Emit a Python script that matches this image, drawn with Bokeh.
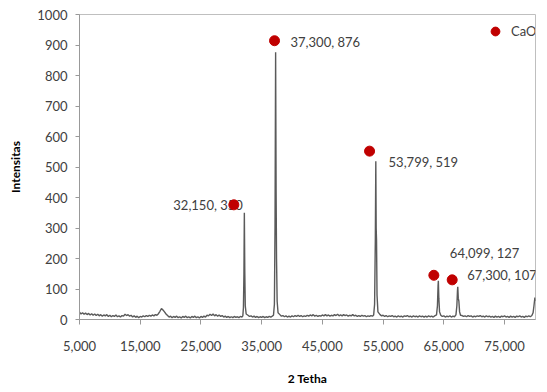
from bokeh.plotting import figure
from bokeh.layouts import column
from bokeh.models import FixedTicker, Range1d, Legend, LegendItem, Div
from bokeh.core.properties import value
from bokeh.embed import file_html
from bokeh.resources import INLINE

# ---- XRD pattern (2-theta in degrees, intensity in counts) ----
base_a_x = [5.00, 5.25, 5.50, 5.75, 6.00, 6.25, 6.50, 6.75, 7.00, 7.25, 7.50, 7.75, 8.00, 8.25, 8.50, 8.75,
            9.00, 9.25, 9.50, 9.75, 10.00, 10.25, 10.50, 10.75, 11.00, 11.25, 11.50, 11.75, 12.00, 12.25,
            12.50, 12.75, 13.00, 13.25, 13.50, 13.75, 14.00, 14.25, 14.50, 14.75, 15.00, 15.25, 15.50,
            15.75, 16.00, 16.25, 16.50, 16.75, 17.00, 17.25, 17.50, 17.75, 18.00, 18.25, 18.50, 18.75,
            19.00, 19.25, 19.50, 19.75, 20.00, 20.25, 20.50, 20.75, 21.00, 21.25, 21.50, 21.75, 22.00,
            22.25, 22.50, 22.75, 23.00, 23.25, 23.50, 23.75, 24.00, 24.25, 24.50, 24.75, 25.00, 25.25,
            25.50, 25.75, 26.00, 26.25, 26.50, 26.75, 27.00, 27.25, 27.50, 27.75, 28.00, 28.25, 28.50,
            28.75, 29.00, 29.25, 29.50, 29.75, 30.00, 30.25, 30.50, 30.75, 31.00, 31.25, 31.50, 31.75]
base_a_y = [24, 18, 22, 17, 21, 16, 20, 15, 19, 14, 18, 13, 17, 12, 16, 11,
            15, 12, 16, 10, 14, 9, 13, 10, 15, 9, 12, 8, 13, 11,
            17, 13, 16, 11, 14, 8, 12, 7, 11, 6, 10, 8, 12,
            9, 13, 10, 14, 11, 15, 12, 16, 14, 19, 27, 36, 31,
            25, 18, 13, 8, 11, 6, 10, 7, 11, 6, 9, 5, 10,
            7, 11, 6, 9, 5, 10, 7, 11, 6, 9, 5, 10, 7,
            11, 8, 14, 12, 17, 13, 18, 12, 16, 11, 15, 10, 13,
            8, 11, 7, 10, 6, 9, 6, 10, 7, 9, 6, 10, 8]
peak1_x = [31.90, 32.00, 32.08, 32.15, 32.22, 32.30, 32.45]
peak1_y = [12, 40, 150, 350, 160, 45, 18]
base_b_x = [32.75, 33.00, 33.25, 33.50, 33.75, 34.00, 34.25, 34.50, 34.75, 35.00, 35.25, 35.50, 35.75,
            36.00, 36.25, 36.50, 36.75]
base_b_y = [14, 10, 12, 8, 11, 7, 10, 6, 9, 7, 10, 6, 9, 7, 10, 8, 11]
peak2_x = [36.95, 37.10, 37.20, 37.30, 37.38, 37.45, 37.55, 37.70]
peak2_y = [14, 50, 300, 876, 420, 200, 60, 22]
base_c_x = [38.00, 38.25, 38.50, 38.75, 39.00, 39.25, 39.50, 39.75, 40.00, 40.25, 40.50, 40.75, 41.00,
            41.25, 41.50, 41.75, 42.00, 42.25, 42.50, 42.75, 43.00, 43.25, 43.50, 43.75, 44.00, 44.25,
            44.50, 44.75, 45.00, 45.25, 45.50, 45.75, 46.00, 46.25, 46.50, 46.75, 47.00, 47.25, 47.50,
            47.75, 48.00, 48.25, 48.50, 48.75, 49.00, 49.25, 49.50, 49.75, 50.00, 50.25, 50.50, 50.75,
            51.00, 51.25, 51.50, 51.75, 52.00, 52.25, 52.50, 52.75, 53.00, 53.25]
base_c_y = [16, 11, 13, 9, 12, 8, 11, 8, 12, 9, 13, 10, 14,
            10, 13, 9, 12, 10, 14, 11, 15, 12, 16, 11, 14, 10,
            13, 11, 15, 12, 16, 12, 15, 11, 14, 12, 16, 13, 17,
            12, 15, 12, 16, 13, 15, 11, 14, 12, 16, 12, 14, 10,
            13, 10, 14, 11, 13, 9, 12, 10, 13, 11]
peak3_x = [53.45, 53.60, 53.72, 53.80, 53.86, 53.92, 54.00, 54.15]
peak3_y = [15, 50, 260, 519, 300, 260, 80, 25]
base_d_x = [54.50, 54.75, 55.00, 55.25, 55.50, 55.75, 56.00, 56.25, 56.50, 56.75, 57.00, 57.25, 57.50,
            57.75, 58.00, 58.25, 58.50, 58.75, 59.00, 59.25, 59.50, 59.75, 60.00, 60.25, 60.50, 60.75,
            61.00, 61.25, 61.50, 61.75, 62.00, 62.25, 62.50, 62.75, 63.00, 63.25, 63.50]
base_d_y = [16, 12, 14, 10, 13, 9, 12, 10, 13, 9, 11, 8, 12,
            9, 11, 8, 12, 10, 13, 9, 11, 8, 12, 9, 11, 8,
            12, 9, 11, 8, 11, 8, 12, 9, 11, 8, 12]
peak4_x = [63.80, 63.95, 64.05, 64.10, 64.18, 64.30]
peak4_y = [15, 45, 110, 127, 70, 25]
base_e_x = [64.50, 64.75, 65.00, 65.25, 65.50, 65.75, 66.00, 66.25, 66.50, 66.75]
base_e_y = [14, 10, 12, 8, 11, 9, 12, 8, 11, 9]
peak5_x = [67.00, 67.15, 67.25, 67.30, 67.38, 67.48, 67.60, 67.75]
peak5_y = [15, 45, 95, 107, 70, 60, 25, 14]
base_f_x = [68.00, 68.25, 68.50, 68.75, 69.00, 69.25, 69.50, 69.75, 70.00, 70.25, 70.50, 70.75, 71.00,
            71.25, 71.50, 71.75, 72.00, 72.25, 72.50, 72.75, 73.00, 73.25, 73.50, 73.75, 74.00, 74.25,
            74.50, 74.75, 75.00, 75.25, 75.50, 75.75, 76.00, 76.25, 76.50, 76.75, 77.00, 77.25, 77.50,
            77.75, 78.00, 78.25, 78.50, 78.75, 79.00, 79.25, 79.50]
base_f_y = [13, 10, 12, 9, 13, 10, 12, 8, 11, 9, 12, 10, 13,
            9, 11, 8, 12, 9, 11, 8, 10, 7, 11, 8, 10, 7,
            11, 9, 12, 8, 10, 7, 11, 8, 10, 7, 11, 9, 12,
            8, 10, 7, 11, 9, 12, 9, 13]
peak6_x = [79.70, 79.85, 80.00, 80.10]
peak6_y = [22, 45, 72, 60]

two_theta = (base_a_x + peak1_x + base_b_x + peak2_x + base_c_x + peak3_x + base_d_x + peak4_x
             + base_e_x + peak5_x + base_f_x + peak6_x)
intensity = (base_a_y + peak1_y + base_b_y + peak2_y + base_c_y + peak3_y + base_d_y + peak4_y
             + base_e_y + peak5_y + base_f_y + peak6_y)

# ---- CaO markers and peak labels ----
cao_x = [30.42, 37.12, 52.77, 63.36, 66.38]
cao_y = [376, 914, 552, 145, 130]
peak_2theta = [32.150, 37.300, 53.799, 64.099, 67.300]
peak_int = [350, 876, 519, 127, 107]
peak_labels = [f"{a:.3f}".replace(".", ",") + f", {b}" for a, b in zip(peak_2theta, peak_int)]

x_ticks = [5, 15, 25, 35, 45, 55, 65, 75]
x_tick_labels = ["5,000", "15,000", "25,000", "35,000", "45,000", "55,000", "65,000", "75,000"]
y_ticks = [0, 100, 200, 300, 400, 500, 600, 700, 800, 900, 1000]

caption_text = "Gambar 5. Pola difraksi sinar-X katalis"

# ---- layout / style (not data) ----
label_dx = [9, 16, 19, 16, 15]
label_dy = [0, 1, 11, -22, -5]
label_align = ["right", "left", "left", "left", "left"]

FONT = "Lato"
TXT = "#404040"

p = figure(width=547, height=388, x_range=Range1d(5, 80.1), y_range=Range1d(0, 1000),
           output_backend="svg", toolbar_location=None,
           min_border_left=79, min_border_right=12, min_border_top=14, min_border_bottom=69)
p.xgrid.visible = False
p.ygrid.visible = False
p.outline_line_color = "#bfbfbf"
p.background_fill_color = "white"
p.border_fill_color = "white"

for ax in (p.xaxis[0], p.yaxis[0]):
    ax.axis_line_color = "#999999"
    ax.major_tick_line_color = "#999999"
    ax.minor_tick_line_color = None
    ax.major_tick_in = 0
    ax.major_tick_out = 5
    ax.major_label_text_font = FONT
    ax.major_label_text_font_size = "13px"
    ax.major_label_text_color = TXT
    ax.axis_label_text_font = FONT
    ax.axis_label_text_font_size = "12px"
    ax.axis_label_text_font_style = "bold"
    ax.axis_label_text_color = "black"

p.xaxis.ticker = FixedTicker(ticks=x_ticks)
p.xaxis.major_label_overrides = {t: s for t, s in zip(x_ticks, x_tick_labels)}
p.xaxis.major_label_standoff = 16
p.xaxis.axis_label = "2 Tetha"
p.xaxis.axis_label_standoff = 17
p.yaxis.ticker = FixedTicker(ticks=y_ticks)
p.yaxis.major_tick_out = 4
p.yaxis.major_label_standoff = 8
p.yaxis.axis_label = "Intensitas"
p.yaxis.axis_label_standoff = 11

p.line(two_theta, intensity, line_color="#5a5a5a", line_width=1.4)

p.text(x=cao_x, y=cao_y, text=peak_labels, x_offset=label_dx, y_offset=label_dy,
       text_align=label_align, text_baseline="middle",
       text_font=value(FONT), text_font_size="13px", text_color=TXT)

r = p.scatter(cao_x, cao_y, size=10, fill_color="#c00000", line_color="#c00000")

legend = Legend(items=[LegendItem(label="CaO", renderers=[r])], location=(405, 277),
                border_line_color=None, background_fill_alpha=0, padding=0, margin=0,
                glyph_width=22, glyph_height=22, label_standoff=5, label_height=22,
                label_text_font=FONT, label_text_font_size="13px", label_text_color=TXT)
p.add_layout(legend)

# caption strip: only the top of the figure caption shows, as in the reference
caption = Div(text=('<div style="font-family:\'Liberation Sans\'; font-size:22px; line-height:22px; '
                    'white-space:nowrap; padding-left:28px; margin:0; position:relative; top:6px; '
                    'word-spacing:12px; color:black;">' + caption_text + '</div>'),
              width=547, height=4, margin=0,
              styles={"overflow": "hidden", "background-color": "white"})

open("out.html", "w").write(file_html(column(p, caption, spacing=0), INLINE))
